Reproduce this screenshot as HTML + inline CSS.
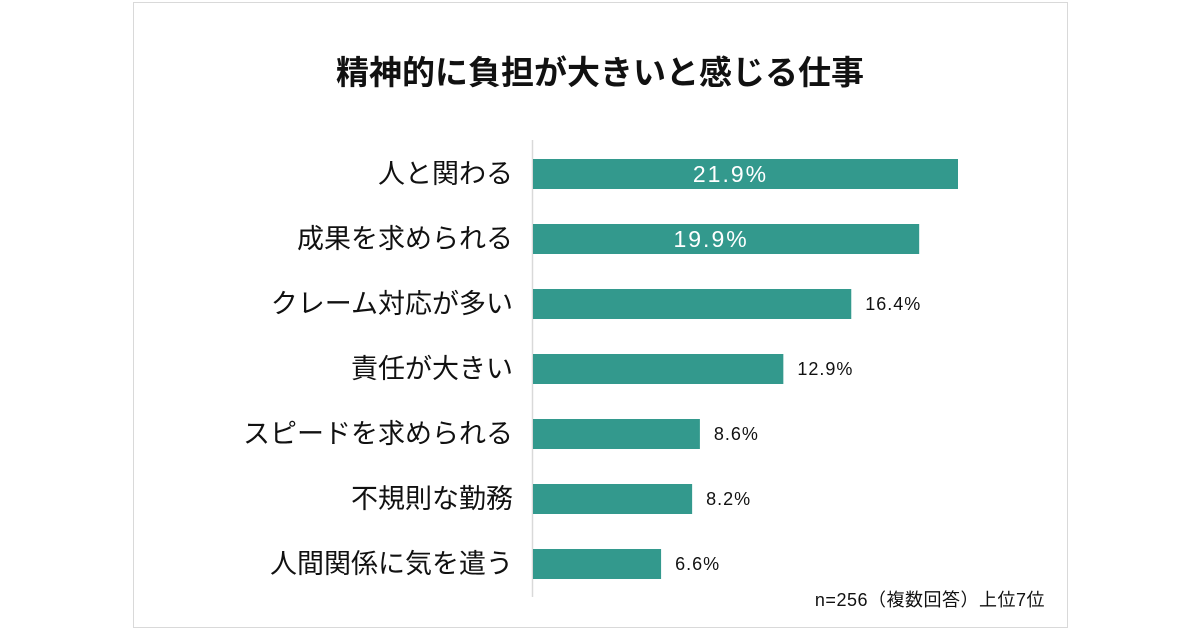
<!DOCTYPE html>
<html><head><meta charset="utf-8"><style>
html,body{margin:0;padding:0;background:#fff;width:1200px;height:630px;overflow:hidden}
</style></head><body>
<svg width="1200" height="630" xmlns="http://www.w3.org/2000/svg" font-family="'Liberation Sans','Noto Sans CJK JP',sans-serif">
<rect x="133.5" y="2.5" width="934" height="625" fill="#fff" stroke="#d9d9d9"/>
<text x="600" y="84" text-anchor="middle" font-size="33" font-weight="bold" fill="#111">精神的に負担が大きいと感じる仕事</text>
<line x1="532.5" y1="140" x2="532.5" y2="597" stroke="#d9d9d9" stroke-width="1.5"/>
<g id="bars"></g>
<text x="1045" y="606" text-anchor="end" font-size="18" letter-spacing="0.5" fill="#111">n=256（複数回答）上位7位</text>
</svg>
<script>
const categories=["人と関わる","成果を求められる","クレーム対応が多い","責任が大きい","スピードを求められる","不規則な勤務","人間関係に気を遣う"];
const values=[21.9,19.9,16.4,12.9,8.6,8.2,6.6];
const x0=533, pxPer=425/21.9, top0=174, step=65, bh=30;
const xs=v=>x0+v*pxPer, ys=i=>top0+i*step;
const g=document.getElementById('bars');
const NS='http://www.w3.org/2000/svg';
categories.forEach((c,i)=>{
  const r=document.createElementNS(NS,'rect');
  r.setAttribute('x',x0);r.setAttribute('y',ys(i)-bh/2);
  r.setAttribute('width',xs(values[i])-x0);r.setAttribute('height',bh);
  r.setAttribute('fill','#33998d');
  
  
  g.appendChild(r);
  const l=document.createElementNS(NS,'text');
  l.setAttribute('x',513);l.setAttribute('y',ys(i)+9);
  l.setAttribute('text-anchor','end');l.setAttribute('font-size','27');l.setAttribute('fill','#111');
  l.textContent=c;
  
  
  g.appendChild(l);
  const t=document.createElementNS(NS,'text');
  const inside=i<2;
  if(inside){t.setAttribute('x',(x0+xs(values[i]))/2-15);t.setAttribute('text-anchor','middle');t.setAttribute('font-size','23');t.setAttribute('letter-spacing','2');t.setAttribute('fill','#fff');t.setAttribute('y',ys(i)+8);}
  else{t.setAttribute('x',xs(values[i])+14);t.setAttribute('font-size','18');t.setAttribute('letter-spacing','1');t.setAttribute('fill','#111');t.setAttribute('y',ys(i)+6);}
  t.textContent=values[i].toFixed(1)+'%';
  
  
  g.appendChild(t);
});
</script>
</body></html>
